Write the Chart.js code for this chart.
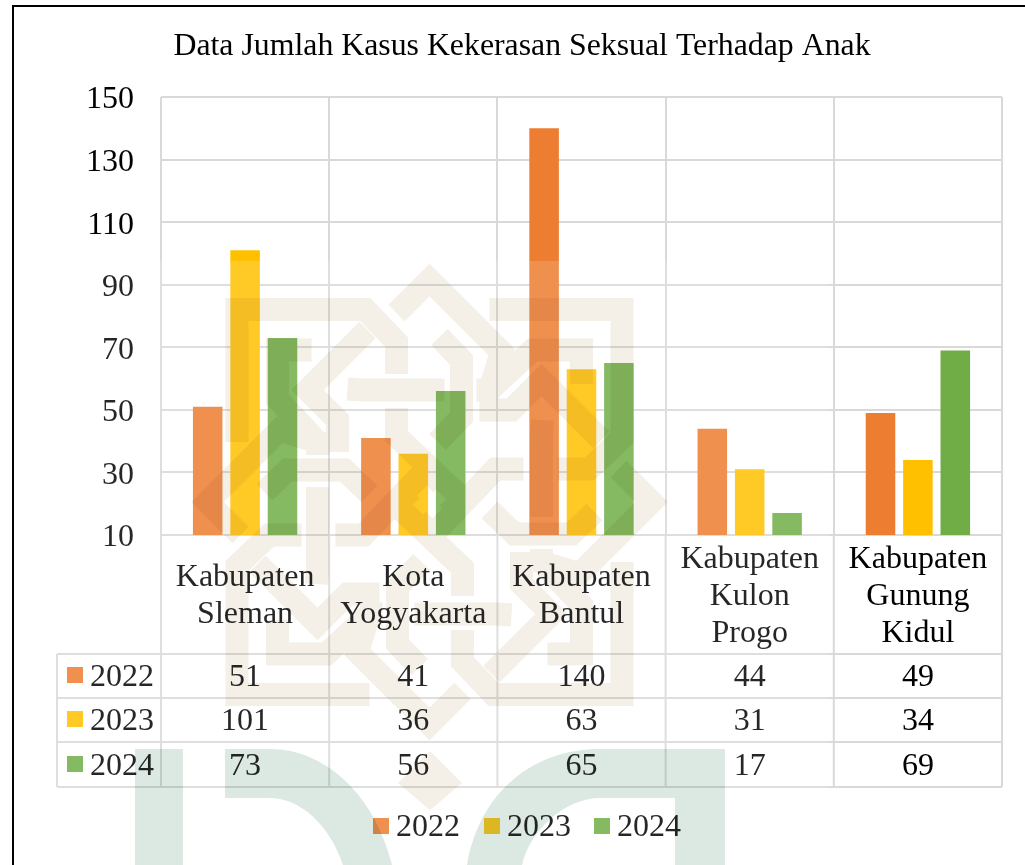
<!DOCTYPE html>
<html>
<head>
<meta charset="utf-8">
<style>
  body { margin: 0; background: #fff; }
  canvas { display: block; }
</style>
</head>
<body>
<canvas id="kasus-Chart" width="1025" height="865"></canvas>
<script src="https://cdn.jsdelivr.net/npm/chart.js@4"></script>
<script>
const categories = [
    ["Kabupaten", "Sleman"],
    ["Kota", "Yogyakarta"],
    ["Kabupaten", "Bantul"],
    ["Kabupaten", "Kulon", "Progo"],
    ["Kabupaten", "Gunung", "Kidul"],
];
const years = ["2022", "2023", "2024"];
const values2022 = [51, 41, 140, 44, 49];
const values2023 = [101, 36, 63, 31, 34];
const values2024 = [73, 56, 65, 17, 69];
const colors = ["#ED7D31", "#FFC000", "#70AD47"];

const serif = "'Liberation Serif', serif";
const textColor = "#000";
const gridColor = "#D9D9D9";

const data = {
    labels: categories,
    datasets: [
        { label: years[0], data: values2022, backgroundColor: colors[0] },
        { label: years[1], data: values2023, backgroundColor: colors[1] },
        { label: years[2], data: values2024, backgroundColor: colors[2] },
    ],
};

// black frame of the page behind the chart
const framePlugin = {
    id: "frame",
    beforeDraw(chart) {
        const c = chart.ctx;
        c.save();
        c.fillStyle = "#fff";
        c.fillRect(0, 0, chart.width, chart.height);
        c.fillStyle = "#000";
        c.fillRect(12, 5, 2, chart.height);
        c.fillRect(12, 5, chart.width, 2);
        c.restore();
    },
};

// data table under the axis + legend
const tablePlugin = {
    id: "dataTable",
    afterDraw(chart) {
        const c = chart.ctx;
        const x = chart.scales.x;
        const bottom = chart.chartArea.bottom;
        const catW = x.width / categories.length;
        const rowLines = [654, 698, 742, 787];
        const rowBase = [686, 730, 775];
        const tableLeft = 57;

        c.save();
        c.strokeStyle = gridColor;
        c.lineWidth = 2;
        c.beginPath();
        for (let i = 0; i <= categories.length; i++) {
            const px = x.left + catW * i;
            c.moveTo(px, bottom);
            c.lineTo(px, rowLines[3]);
        }
        rowLines.forEach(y => {
            c.moveTo(tableLeft, y);
            c.lineTo(x.right, y);
        });
        c.moveTo(tableLeft, rowLines[0]);
        c.lineTo(tableLeft, rowLines[3]);
        c.stroke();

        c.fillStyle = textColor;
        c.font = "32px " + serif;
        c.textAlign = "center";
        c.textBaseline = "alphabetic";
        categories.forEach((lines, i) => {
            const cx = x.getPixelForValue(i);
            const first = lines.length === 3 ? 568 : 586;
            lines.forEach((line, j) => c.fillText(line, cx, first + j * 37));
            data.datasets.forEach((ds, r) => c.fillText(ds.data[i], cx, rowBase[r]));
        });

        c.textAlign = "left";
        data.datasets.forEach((ds, r) => {
            c.fillStyle = ds.backgroundColor;
            c.fillRect(67, rowBase[r] - 19, 16, 16);
            c.fillStyle = textColor;
            c.fillText(ds.label, 90, rowBase[r]);
        });

        const legendX = [373, 484, 594];
        data.datasets.forEach((ds, r) => {
            c.fillStyle = ds.backgroundColor;
            c.fillRect(legendX[r], 818, 16, 16);
            c.fillStyle = textColor;
            c.fillText(ds.label, legendX[r] + 23, 836);
        });
        c.restore();
    },
};

// faded logo that lies over the whole picture
const motif = [
    [[-33, -189], [0, -222], [72, -150], [60, -112], [47, -112]],
    [[60, -112], [103, -152], [152, -152], [152, -118]],
    [[-33, -128], [-33, -160], [-64, -192.5], [-192.5, -192.5], [-192.5, -60]],
    [[-82, -113], [-68, -112], [15, -112]],
    [[-62, -172], [-122, -112], [-92, -82], [-92, -50]],
    [[10, -165], [32, -142], [32, -85], [8, -60]],
    [[-33, -94], [-33, -66], [33, -3], [18, 12]],
];

const watermarkPlugin = {
    id: "watermark",
    afterDraw(chart) {
        const c = chart.ctx;
        c.save();
        c.fillStyle = "rgba(255,255,255,0.15)";
        c.fillRect(14, 261, 816, 604);

        c.globalCompositeOperation = "multiply";
        c.save();
        c.translate(429.5, 502);
        c.strokeStyle = "#F4F0E8";
        c.lineWidth = 23;
        c.lineJoin = "miter";
        c.beginPath();
        for (let r = 0; r < 4; r++) {
            motif.forEach(line => {
                line.forEach((p, i) => {
                    if (i === 0) c.moveTo(p[0], p[1]);
                    else c.lineTo(p[0], p[1]);
                });
            });
            c.rotate(Math.PI / 2);
        }
        c.stroke();
        c.restore();

        c.fillStyle = "#F4F0E8";
        c.beginPath();
        c.moveTo(430, 751);
        c.lineTo(462, 783);
        c.lineTo(430, 810);
        c.lineTo(398, 783);
        c.closePath();
        c.fill();

        c.fillStyle = "#DCE8E2";
        c.beginPath();
        c.rect(135, 749, 48, 116);
        c.moveTo(225, 749);
        c.lineTo(270, 749);
        c.bezierCurveTo(325, 749, 375, 795, 392, 865);
        c.lineTo(343, 865);
        c.bezierCurveTo(330, 825, 300, 798, 270, 798);
        c.lineTo(225, 798);
        c.closePath();
        c.moveTo(725, 749);
        c.lineTo(600, 749);
        c.bezierCurveTo(535, 749, 480, 790, 467, 865);
        c.lineTo(522, 865);
        c.bezierCurveTo(530, 830, 565, 798, 600, 798);
        c.lineTo(675, 798);
        c.lineTo(675, 865);
        c.lineTo(725, 865);
        c.closePath();
        c.fill();
        c.restore();
    },
};

const config = {
    type: "bar",
    data: data,
    options: {
        responsive: false,
        animation: false,
        categoryPercentage: 0.667,
        barPercentage: 0.79,
        layout: { padding: { left: 42, right: 23, top: 0, bottom: 330 } },
        plugins: {
            legend: { display: false },
            tooltip: { enabled: false },
            title: {
                display: true,
                text: "Data Jumlah Kasus Kekerasan Seksual Terhadap Anak",
                color: textColor,
                font: { family: serif, size: 31.8, weight: "normal", lineHeight: 1.2 },
                padding: { top: 27.5, bottom: 31.34 },
            },
        },
        scales: {
            x: {
                ticks: { display: false },
                border: { display: false },
                grid: { color: gridColor, lineWidth: 2, drawTicks: false },
            },
            y: {
                min: 10,
                max: 150,
                afterFit(scale) { scale.width = 119; },
                ticks: {
                    stepSize: 20,
                    padding: 27,
                    labelOffset: 3,
                    color: textColor,
                    font: { family: serif, size: 32 },
                },
                border: { display: false },
                grid: { color: gridColor, lineWidth: 2, drawTicks: false },
            },
        },
    },
    plugins: [framePlugin, tablePlugin, watermarkPlugin],
};

let myChart = new Chart(document.getElementById("kasus-Chart"), config);
</script>
</body>
</html>
